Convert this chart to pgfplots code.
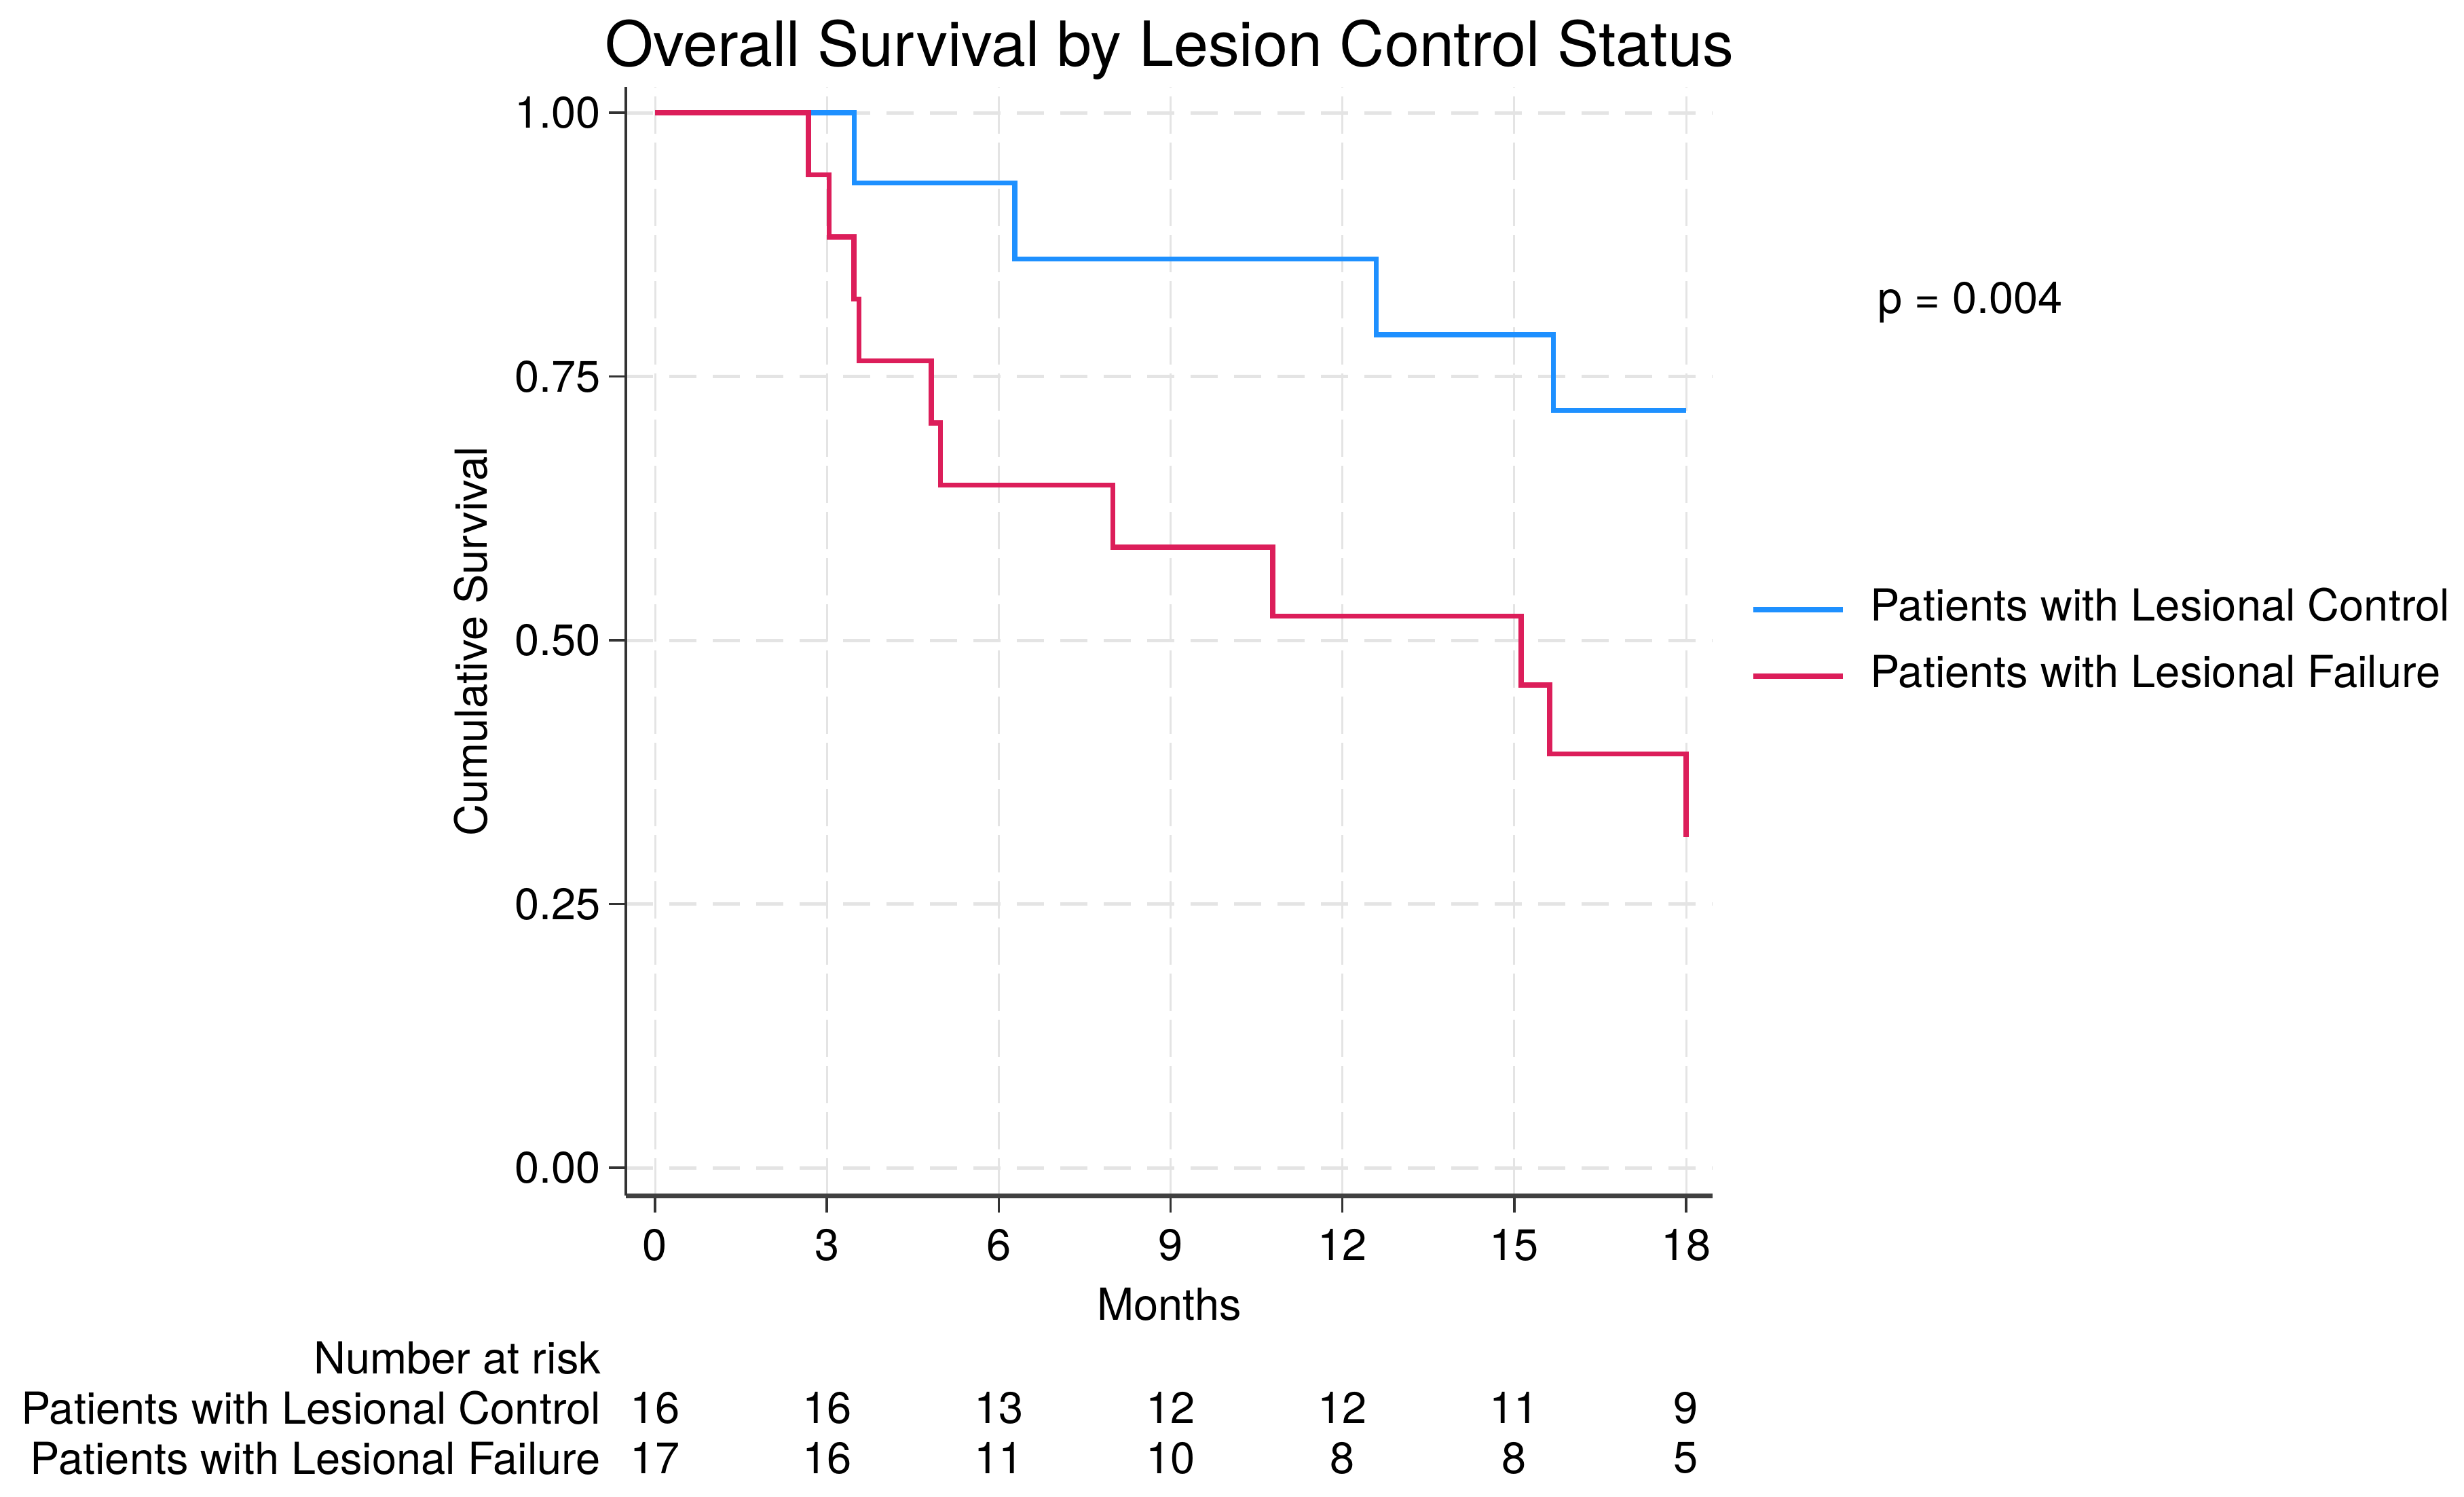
\documentclass[border=0pt]{standalone}
\usepackage{fontspec}
\setmainfont{TeX Gyre Heros}
\usepackage{pgfplots}
\pgfplotsset{compat=1.18}
\definecolor{ctrl}{RGB}{30,144,255}
\definecolor{fail}{RGB}{220,30,90}
\definecolor{gridc}{RGB}{228,228,228}
\newcommand\fs{\fontsize{6.5}{7.8}\selectfont}
\newcommand\ft{\fontsize{9.17}{11}\selectfont}
\begin{document}
\begin{tikzpicture}[font=\fs]
\path[use as bounding box] (0,0) rectangle (363pt,-220.4pt);
\begin{axis}[
  at={(92.2pt,-176.1pt)}, anchor=south west,
  scale only axis, width=160.1pt, height=163.3pt,
  xmin=-0.5095, xmax=18.462, ymin=-0.026377, ymax=1.024447,
  axis x line*=bottom, axis y line*=left,
  axis line style={-},
  x axis line style={line width=0.7pt, black!75},
  y axis line style={line width=0.4pt, black!80},
  clip=false,
  xtick={0,3,...,18}, ytick={0,0.25,0.5,0.75,1},
  tick align=outside, major tick length=2.5pt,
  tick style={black!80, line width=0.35pt},
  xmajorgrids, ymajorgrids,
  x grid style={gridc, line width=0.3pt, dash pattern=on 5.5pt off 1.3pt},
  y grid style={gridc, line width=0.5pt, dash pattern=on 4pt off 2.4pt},
  /pgf/number format/assume math mode=true,
  y tick label style={xshift=2.3pt},
  yticklabel={\pgfmathprintnumber[fixed, fixed zerofill, precision=2]{\tick}},
  xticklabel style={yshift=1.1pt},
  tick label style={font=\fs},
  label style={font=\fs},
  xlabel={Months},
  ylabel={Cumulative Survival},
  x label style={at={(axis description cs:0.5,-0.098)}, anchor=center},
  y label style={at={(axis description cs:-0.1424,0.5)}, anchor=center},
  title={Overall Survival by Lesion Control Status},
  every axis title shift=0pt,
  title style={font=\ft, at={(axis description cs:0.5,1)}, anchor=base, yshift=3.1pt},
  legend cell align=left,
  legend image code/.code={\draw[#1] (0pt,0pt) -- (13.2pt,0pt);},
  legend style={draw=none, fill=none, font=\fs,
    at={(axis description cs:1.0337,0.4988)}, anchor=west,
    inner sep=0pt, row sep=-0.5pt,
    /tikz/every odd column/.append style={column sep=1.7pt}},
]
\addplot[const plot, ctrl, line width=0.75pt] coordinates {
  (0,1) (3.48,0.9333) (6.28,0.8615) (12.59,0.7897) (15.68,0.7179) (18,0.7179)
};
\addlegendentry{Patients with Lesional Control}
\addplot[const plot, fail, line width=0.75pt] coordinates {
  (0,1) (2.68,0.9412) (3.04,0.8824) (3.47,0.8235) (3.56,0.7647) (4.82,0.7059)
  (4.98,0.6471) (7.99,0.5882) (10.78,0.5229) (15.12,0.4575) (15.62,0.3922) (18,0.3137)
};
\addlegendentry{Patients with Lesional Failure}

\node[anchor=base west, inner sep=0pt] at (axis description cs:1.1505,0.7955) {p = 0.004};

\node[anchor=east, inner sep=0pt] at (axis cs:-0.924,-0.1801) {Number at risk};
\node[anchor=east, inner sep=0pt] at (axis cs:-0.924,-0.2277) {Patients with Lesional Control};
\node[anchor=east, inner sep=0pt] at (axis cs:-0.924,-0.2753) {Patients with Lesional Failure};

\node[inner sep=0pt] at (axis cs:0,-0.2277) {16};
\node[inner sep=0pt] at (axis cs:3,-0.2277) {16};
\node[inner sep=0pt] at (axis cs:6,-0.2277) {13};
\node[inner sep=0pt] at (axis cs:9,-0.2277) {12};
\node[inner sep=0pt] at (axis cs:12,-0.2277) {12};
\node[inner sep=0pt] at (axis cs:15,-0.2277) {11};
\node[inner sep=0pt] at (axis cs:18,-0.2277) {9};

\node[inner sep=0pt] at (axis cs:0,-0.2753) {17};
\node[inner sep=0pt] at (axis cs:3,-0.2753) {16};
\node[inner sep=0pt] at (axis cs:6,-0.2753) {11};
\node[inner sep=0pt] at (axis cs:9,-0.2753) {10};
\node[inner sep=0pt] at (axis cs:12,-0.2753) {8};
\node[inner sep=0pt] at (axis cs:15,-0.2753) {8};
\node[inner sep=0pt] at (axis cs:18,-0.2753) {5};
\end{axis}
\end{tikzpicture}
\end{document}
